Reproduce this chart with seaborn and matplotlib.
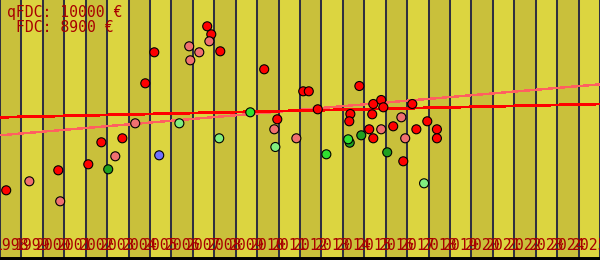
import matplotlib
matplotlib.use("Agg")
import matplotlib.pyplot as plt
import matplotlib.transforms as mtransforms
import seaborn as sns
import pandas as pd

# ---------------- data ----------------
years = list(range(1998, 2026))          # one stripe per year
tick_labels = [str(y) for y in years]

red_x = [1998.29, 2000.72, 2002.12, 2002.73, 2003.71, 2004.78, 2005.20, 2007.67, 2007.86,
         2008.28, 2010.33, 2010.94, 2012.15, 2012.41, 2012.83, 2014.35, 2014.30, 2014.77,
         2015.42, 2015.37, 2015.79, 2015.89, 2015.23, 2015.42, 2016.35, 2016.82, 2017.24,
         2017.43, 2017.94, 2018.39, 2018.39]
red_y = [69.7, 89.7, 95.7, 117.7, 121.7, 176.7, 207.7, 233.7, 225.7,
         208.7, 190.7, 140.7, 168.7, 168.7, 150.7, 146.0, 138.7, 174.0,
         156.0, 145.7, 160.0, 152.7, 130.7, 121.7, 133.7, 98.7, 156.0,
         130.7, 138.7, 130.7, 121.7]

pink_x = [1999.37, 2000.81, 2003.38, 2004.31, 2006.83, 2007.30, 2006.88, 2007.77,
          2010.80, 2011.83, 2016.73, 2015.79, 2016.91]
pink_y = [78.7, 58.7, 103.7, 136.7, 213.7, 207.7, 199.7, 218.7,
          130.7, 121.7, 142.7, 130.7, 121.7]

lightgreen_x = [2006.37, 2008.23, 2010.85, 2017.79]
lightgreen_y = [136.7, 121.7, 113.0, 76.7]

darkgreen_x = [2003.05, 2014.86, 2014.32, 2016.07]
darkgreen_y = [90.7, 124.7, 117.3, 107.7]

green_x = [2009.68, 2013.23, 2014.25]
green_y = [147.7, 105.7, 120.7]

blue_x = [2005.43]
blue_y = [104.7]

trend_years = [1998, 2026]
fdc_trend = [142.7, 156.0]
qfdc_trend = [124.7, 175.7]

info_lines = ["qFDC: 10000 €", "FDC: 8900 €"]

palette = {"red": "#ff0000", "pink": "#f07070", "lightgreen": "#80ee80",
           "darkgreen": "#20a020", "green": "#30e030", "blue": "#7070ff"}

groups = [("red", red_x, red_y), ("pink", pink_x, pink_y),
          ("lightgreen", lightgreen_x, lightgreen_y),
          ("darkgreen", darkgreen_x, darkgreen_y),
          ("green", green_x, green_y), ("blue", blue_x, blue_y)]
rows = []
for name, xs, ys in groups:
    for xv, yv in zip(xs, ys):
        rows.append({"year": xv, "value": yv, "grade": name})
df = pd.DataFrame(rows)

# ---------------- figure ----------------
fig = plt.figure(figsize=(6.0, 2.6), dpi=100)
ax = fig.add_axes([0, 0, 1, 1])
ax.set_xlim(years[0], years[-1] + 1)
ax.set_ylim(0, 260)

for i, y in enumerate(years):
    ax.axvspan(y, y + 1, color="#c9c03b" if i % 2 == 0 else "#dcd540", zorder=0, lw=0)

ax.set_xticks(years + [years[-1] + 1])
ax.set_axisbelow(True)
ax.grid(axis="x", color="#303040", lw=1.45)
ax.grid(axis="y", visible=False)
ax.tick_params(length=0, labelbottom=False, labelleft=False)
for s in ["left", "top", "right"]:
    ax.spines[s].set_visible(False)
ax.spines["bottom"].set_color("black")
ax.spines["bottom"].set_linewidth(4.3)

sns.lineplot(x=trend_years, y=qfdc_trend, color="#ff6060", lw=1.0, antialiased=False, ax=ax, zorder=2)
sns.lineplot(x=trend_years, y=fdc_trend, color="#ff0000", lw=1.3, antialiased=False, ax=ax, zorder=2)

sns.scatterplot(data=df, x="year", y="value", hue="grade", palette=palette, s=42,
                edgecolor="black", linewidth=0.8, legend=False, ax=ax, zorder=3)
ax.set_xlabel("")
ax.set_ylabel("")

font = dict(family="DejaVu Sans Mono", size=10.6, color="#a80000")
ax.text(7.0 / 600, 1 - 17.3 / 260, info_lines[0], transform=ax.transAxes,
        ha="left", va="baseline", **font)
ax.text(16.0 / 600, 1 - 31.7 / 260, info_lines[1], transform=ax.transAxes,
        ha="left", va="baseline", **font)

trans = mtransforms.blended_transform_factory(ax.transData, ax.transAxes)
for y, lab in zip(years, tick_labels):
    ax.text(y + 0.5, 10.0 / 260, lab, transform=trans, ha="center", va="baseline",
            clip_on=False, zorder=4, **font)

fig.savefig("out.png", dpi=100)
